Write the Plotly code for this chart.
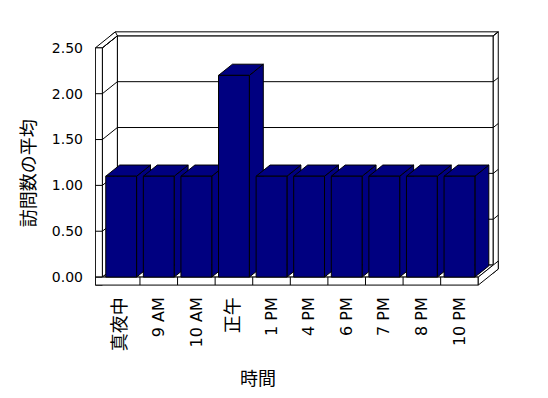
import plotly.graph_objects as go

categories = ["真夜中", "9 AM", "10 AM", "正午", "1 PM", "4 PM", "6 PM", "7 PM", "8 PM", "10 PM"]
values = [1.1, 1.1, 1.1, 2.2, 1.1, 1.1, 1.1, 1.1, 1.1, 1.1]
y_ticks = [0, 0.5, 1.0, 1.5, 2.0, 2.5]
y_tick_labels = ["0.00", "0.50", "1.00", "1.50", "2.00", "2.50"]
x_title = "時間"
y_title = "訪問数の平均"

NAVY = "#000080"
FONT = "DejaVu Sans, Noto Sans CJK JP"
CJK = "Noto Sans CJK JP"

# projection geometry (data units)
DXD = 15 / 37.6   # depth offset in x for z = 1
DYD = 12 / 91.6   # depth offset in y for z = 1
ZB = 4 / 3        # back face depth of wall
TX = 7 / 37.6     # left wall thickness
TY = 8 / 91.6     # floor thickness
YMAX = y_ticks[-1]
n = len(categories)
X0, X1 = -0.5, n - 0.5
BW = 0.41         # half bar width
BZ = 0.93         # bar depth


def P(x, y, z):
    return x + z * DXD, y + z * DYD


fig = go.Figure()


def poly(pts, fill="white", color="black"):
    xs, ys = [], []
    for p in pts:
        px, py = P(*p)
        xs.append(px)
        ys.append(py)
    xs.append(xs[0])
    ys.append(ys[0])
    fig.add_trace(go.Scatter(x=xs, y=ys, mode="lines", fill="toself", fillcolor=fill,
                             line=dict(color=color, width=1), hoverinfo="skip", showlegend=False))


def lines(segs):
    xs, ys = [], []
    for a, b in segs:
        pa, pb = P(*a), P(*b)
        xs += [pa[0], pb[0], None]
        ys += [pa[1], pb[1], None]
    fig.add_trace(go.Scatter(x=xs, y=ys, mode="lines", line=dict(color="black", width=1),
                             hoverinfo="skip", showlegend=False))


# back wall
poly([(X0, 0, 1), (X1, 0, 1), (X1, YMAX, 1), (X0, YMAX, 1)])
poly([(X0 - TX, YMAX, 1), (X1, YMAX, 1), (X1, YMAX, ZB), (X0 - TX, YMAX, ZB)])
poly([(X1, -TY, 1), (X1, -TY, ZB), (X1, YMAX, ZB), (X1, YMAX, 1)])
# left wall
poly([(X0, 0, 0), (X0, 0, 1), (X0, YMAX, 1), (X0, YMAX, 0)])
poly([(X0 - TX, YMAX, 0), (X0, YMAX, 0), (X0, YMAX, 1), (X0 - TX, YMAX, ZB)])
poly([(X0 - TX, -TY, 0), (X0, -TY, 0), (X0, YMAX, 0), (X0 - TX, YMAX, 0)])
# floor
poly([(X0, 0, 0), (X1, 0, 0), (X1, 0, 1), (X0, 0, 1)])
poly([(X0 - TX, -TY, 0), (X1, -TY, 0), (X1, 0, 0), (X0 - TX, 0, 0)])
poly([(X1, -TY, 0), (X1, -TY, ZB), (X1, 0, ZB), (X1, 0, 0)])

# gridlines
segs = []
for t in y_ticks[1:-1]:
    segs.append(((X0, t, 1), (X1, t, 1)))
for t in y_ticks[1:]:
    segs.append(((X0, t, 0), (X0, t, 1)))
    segs.append(((X1, t, 1), (X1, t, ZB)))
for t in y_ticks[:-1]:
    segs.append(((X0 - TX, t, 0), (X0, t, 0)))
for k in range(1, n):
    segs.append(((X0 + k, -TY, 0), (X0 + k, 0, 0)))
lines(segs)

# bars
for i, v in enumerate(values):
    l, r = i - BW, i + BW
    poly([(r, 0, 0), (r, 0, BZ), (r, v, BZ), (r, v, 0)], fill=NAVY)
    poly([(l, v, 0), (r, v, 0), (r, v, BZ), (l, v, BZ)], fill=NAVY)
    poly([(l, 0, 0), (r, 0, 0), (r, v, 0), (l, v, 0)], fill=NAVY)

xr = [X0 - TX - 0.01, X1 + ZB * DXD + 0.02]
yr = [-TY - 0.01, YMAX + ZB * DYD + 0.02]
W, H = 548, 398
plot_w = (xr[1] - xr[0]) * 37.6
plot_h = (yr[1] - yr[0]) * 91.6
ml = 102 - (X0 - xr[0]) * 37.6
mt = 277 - yr[1] * 91.6


def tick_text(s):
    if any(ord(c) > 0x2e80 for c in s):
        return "<span style='font-size:18px'>" + s + "</span>"
    return s


fig.update_layout(
    width=W, height=H,
    margin=dict(l=ml, r=W - ml - plot_w, t=mt, b=H - mt - plot_h, pad=0),
    paper_bgcolor="white", plot_bgcolor="white",
    font=dict(family=FONT, size=14, color="black"),
    showlegend=False,
    xaxis=dict(range=xr, tickvals=list(range(n)), ticktext=[tick_text(c) for c in categories],
               tickangle=-90, showgrid=False, zeroline=False, showline=False, ticks="",
               tickfont=dict(family=FONT, size=16, color="black"),
               ticklabelstandoff=7, fixedrange=True),
    yaxis=dict(range=yr, tickvals=y_ticks, ticktext=y_tick_labels,
               showgrid=False, zeroline=False, showline=False, ticks="",
               tickfont=dict(family=FONT, size=14, color="black"),
               ticklabelstandoff=11, fixedrange=True),
    annotations=[
        dict(text=x_title, xref="x", yref="paper", x=(258 - 102) / 37.6 - 0.5, y=0,
             yshift=-(377 - (mt + plot_h)), showarrow=False, yanchor="middle",
             font=dict(family=CJK, size=18)),
        dict(text=y_title, xref="paper", yref="y", x=0, y=(277 - 173) / 91.6,
             xshift=27 - ml, showarrow=False, textangle=-90, xanchor="center",
             font=dict(family=CJK, size=18)),
    ],
)

fig.write_html("out.html")
